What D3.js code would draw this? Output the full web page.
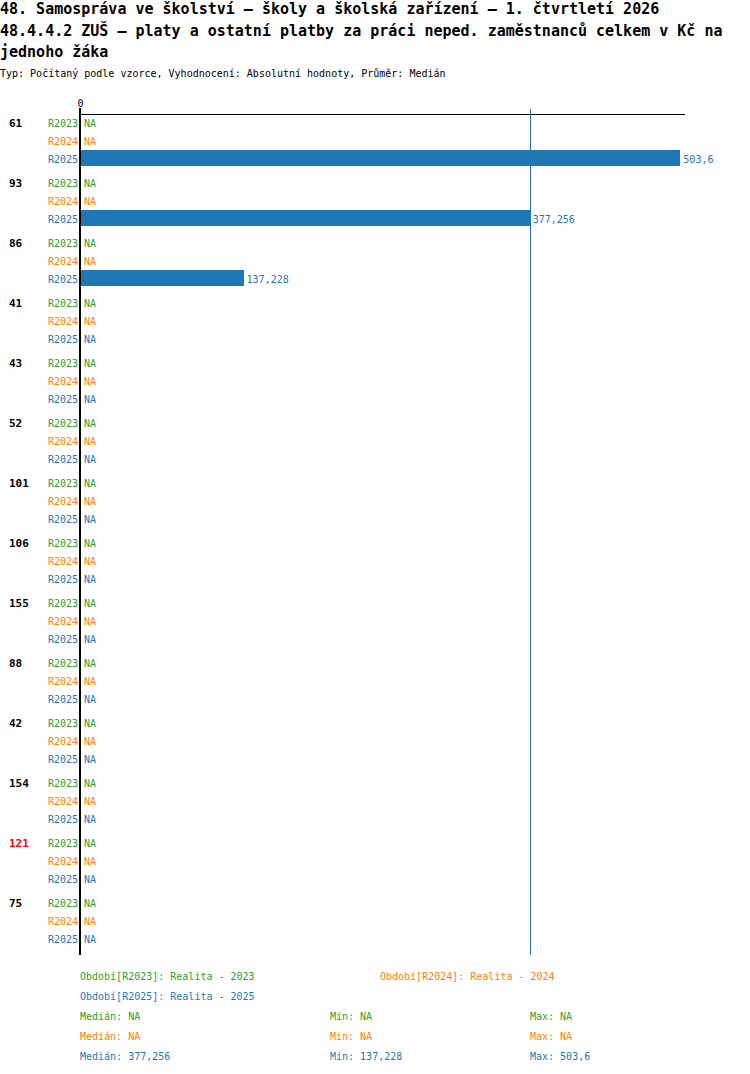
<!DOCTYPE html>
<html>
<head>
<meta charset="utf-8">
<script src="https://cdn.jsdelivr.net/npm/d3@7"></script>
<style>
  html, body { margin: 0; padding: 0; background: #fff; }
  svg { display: block; }
  text { font-family: "DejaVu Sans Mono", "Liberation Mono", monospace; }
</style>
</head>
<body>
<svg id="chart" width="750" height="1074"></svg>
<script>
// ---- data ----
const titleLines = [
  "48. Samospráva ve školství – školy a školská zařízení – 1. čtvrtletí 2026",
  "48.4.4.2 ZUŠ – platy a ostatní platby za práci neped. zaměstnanců celkem v Kč na",
  "jednoho žáka"
];
const subtitle = "Typ: Počítaný podle vzorce, Vyhodnocení: Absolutní hodnoty, Průměr: Medián";
const categories = ["61", "93", "86", "41", "43", "52", "101", "106", "155", "88", "42", "154", "121", "75"];
const highlighted = ["121"];
const series = ["R2023", "R2024", "R2025"];
const seriesNames = ["Realita - 2023", "Realita - 2024", "Realita - 2025"];
const seriesColors = ["#2ca02c", "#ff7f0e", "#1f77b4"];
const valuesR2023 = [null, null, null, null, null, null, null, null, null, null, null, null, null, null];
const valuesR2024 = [null, null, null, null, null, null, null, null, null, null, null, null, null, null];
const valuesR2025 = [503.6, 377.256, 137.228, null, null, null, null, null, null, null, null, null, null, null];
const seriesValues = [valuesR2023, valuesR2024, valuesR2025];
const axisTicks = [0];
const medianValue = 377.256;
const statMedian = [null, null, 377.256];
const statMin = [null, null, 137.228];
const statMax = [null, null, 503.6];

// ---- helpers ----
const fmt = v => (v === null || v === undefined) ? "NA" : String(v).replace(".", ",");

const svg = d3.select("#chart");

// titles
svg.selectAll("text.title").data(titleLines).join("text")
  .attr("class", "title")
  .attr("x", 0)
  .attr("y", (d, i) => 14 + i * 21.5)
  .attr("font-size", 15)
  .attr("font-weight", "bold")
  .attr("fill", "#000")
  .text(d => d);

svg.append("text")
  .attr("x", 0).attr("y", 77)
  .attr("font-size", 10)
  .attr("fill", "#000")
  .text(subtitle);

// scales
const x = d3.scaleLinear().domain([0, 507.5]).range([80, 685]);
const yGroup = d3.scaleBand().domain(categories).range([114, 114 + 60 * categories.length]);
const yRow = d3.scaleBand().domain(series).range([0, 54]);

// top axis
const axis = d3.axisTop(x).tickValues(axisTicks).tickSize(6).tickPadding(2).tickFormat(d3.format("d"));
const axG = svg.append("g").attr("transform", "translate(0,114.5)").call(axis);
axG.select(".domain").attr("stroke", "#000").attr("stroke-width", 1)
  .attr("shape-rendering", "crispEdges")
  .attr("d", `M${x(0)},0H${x.range()[1]}`);
axG.selectAll(".tick line").attr("stroke", "#000");
axG.selectAll(".tick text").attr("font-size", 10).attr("font-family", "DejaVu Sans Mono, monospace").attr("fill", "#000");

// groups
const groups = svg.selectAll("g.grp").data(categories).join("g")
  .attr("class", "grp")
  .attr("transform", d => `translate(0,${yGroup(d)})`);

groups.append("text")
  .attr("x", 9)
  .attr("y", yRow("R2023") + yRow.bandwidth() / 2)
  .attr("dy", "0.35em")
  .attr("font-size", 11)
  .attr("font-weight", "bold")
  .attr("fill", d => highlighted.includes(d) ? "#ff0000" : "#000")
  .text(d => d);

groups.each(function(cat, ci) {
  const g = d3.select(this);
  series.forEach((s, si) => {
    const v = seriesValues[si][ci];
    const yc = yRow(s) + yRow.bandwidth() / 2;
    g.append("text")
      .attr("x", 78)
      .attr("y", yc)
      .attr("dy", "0.35em")
      .attr("text-anchor", "end")
      .attr("font-size", 10)
      .attr("fill", seriesColors[si])
      .text(s);
    if (v === null) {
      g.append("text")
        .attr("x", 84)
        .attr("y", yc)
        .attr("dy", "0.35em")
        .attr("font-size", 10)
        .attr("fill", seriesColors[si])
        .text("NA");
    } else {
      g.append("rect")
        .attr("x", x(0))
        .attr("y", yRow(s))
        .attr("width", x(v) - x(0))
        .attr("height", 16)
        .attr("shape-rendering", "crispEdges")
        .attr("fill", seriesColors[si]);
      g.append("text")
        .attr("x", x(v) + 3)
        .attr("y", yc)
        .attr("dy", "0.35em")
        .attr("font-size", 10)
        .attr("fill", seriesColors[si])
        .text(fmt(v));
    }
  });
});

// median line
svg.append("line")
  .attr("x1", Math.round(x(medianValue)) + 0.5).attr("x2", Math.round(x(medianValue)) + 0.5)
  .attr("y1", 109).attr("y2", 955)
  .attr("shape-rendering", "crispEdges")
  .attr("stroke", "#1f77b4").attr("stroke-width", 1);

// zero line
svg.append("line")
  .attr("x1", x(0)).attr("x2", x(0))
  .attr("y1", 108).attr("y2", 955)
  .attr("shape-rendering", "crispEdges")
  .attr("stroke", "#000").attr("stroke-width", 2);

// legend
const legendPos = [[80, 976], [380, 976], [80, 996]];
series.forEach((s, i) => {
  svg.append("text")
    .attr("x", legendPos[i][0]).attr("y", legendPos[i][1])
    .attr("dy", "0.35em")
    .attr("font-size", 10)
    .attr("fill", seriesColors[i])
    .text(`Období[${s}]: ${seriesNames[i]}`);
});
series.forEach((s, i) => {
  const yy = 1016 + i * 20;
  [[80, "Medián: ", statMedian[i]], [330, "Min: ", statMin[i]], [530, "Max: ", statMax[i]]].forEach(([xx, lab, v]) => {
    svg.append("text")
      .attr("x", xx).attr("y", yy)
      .attr("dy", "0.35em")
      .attr("font-size", 10)
      .attr("fill", seriesColors[i])
      .text(lab + fmt(v));
  });
});
</script>
</body>
</html>
